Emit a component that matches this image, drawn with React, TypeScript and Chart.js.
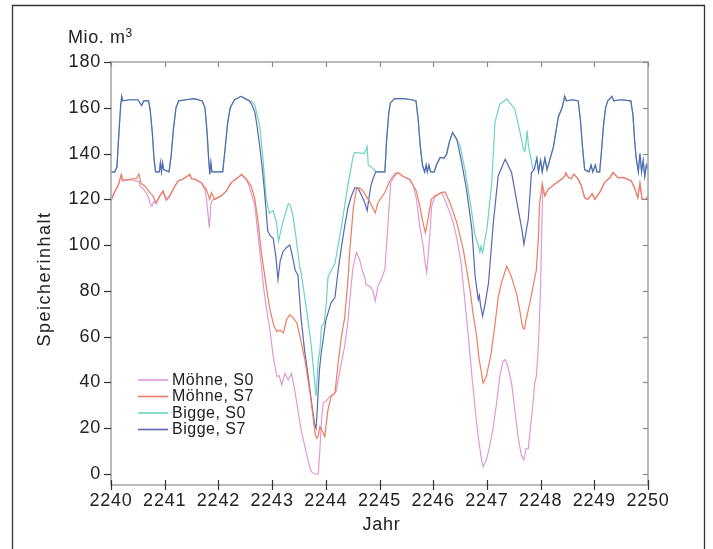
import React, { useEffect, useRef } from "react";
import { Chart, registerables } from "chart.js";

Chart.register(...registerables);

const FONT = '"Liberation Sans", Arial, Helvetica, sans-serif';

const xTicks = [2240, 2241, 2242, 2243, 2244, 2245, 2246, 2247, 2248, 2249, 2250];
const yTicks = [0, 20, 40, 60, 80, 100, 120, 140, 160, 180];
const seriesLabels = ["Möhne, S0", "Möhne, S7", "Bigge, S0", "Bigge, S7"];
const yUnit = "Mio. m";
const yUnitExp = "3";
const yTitle = "Speicherinhalt";
const xTitle = "Jahr";

// [Jahr, Speicherinhalt]
const mohneS0: [number, number][] = [
  [2240.00,119],[2240.05,122],[2240.10,125],[2240.15,127],[2240.19,130],[2240.22,128],[2240.30,128.5],[2240.40,128.5],
  [2240.47,128],[2240.52,128],[2240.55,125.5],[2240.62,124],[2240.69,121.5],[2240.73,118],[2240.76,117],[2240.80,119],
  [2240.84,118],[2240.91,121.5],[2240.97,123.5],[2241.00,121],[2241.03,119.5],[2241.09,121],[2241.19,125.8],[2241.25,128],
  [2241.35,129],[2241.47,130.5],[2241.50,129],[2241.56,128.8],[2241.68,127.3],[2241.75,124],[2241.78,120],[2241.83,107.6],
  [2241.86,118],[2241.90,120],[2241.93,120],[2242.05,121.5],[2242.15,123.7],[2242.24,127.3],[2242.36,129.5],[2242.43,130.5],
  [2242.52,128.8],[2242.57,126],[2242.62,122],[2242.68,117],[2242.74,104],[2242.80,91],[2242.85,80],[2242.91,70],
  [2242.96,63],[2243.02,51.4],[2243.09,42.6],[2243.13,43],[2243.18,39],[2243.24,44],[2243.30,41],[2243.36,44],
  [2243.42,36.8],[2243.48,28],[2243.54,19.3],[2243.64,9],[2243.70,3.2],[2243.73,1],[2243.80,0],[2243.86,0],
  [2243.89,10.5],[2243.92,23.6],[2243.95,31],[2244.01,32],[2244.07,33.9],[2244.13,34.6],[2244.19,36],[2244.23,41],
  [2244.29,48.5],[2244.35,55.7],[2244.41,66],[2244.47,82],[2244.51,90.8],[2244.57,96.7],[2244.63,93.7],[2244.69,88],
  [2244.72,86.4],[2244.75,82.8],[2244.82,82],[2244.88,80],[2244.92,75.5],[2244.97,82],[2245.03,85],[2245.10,89.4],
  [2245.16,110],[2245.21,127.4],[2245.28,130],[2245.34,131.7],[2245.44,130],[2245.56,128.8],[2245.63,126],[2245.69,120],
  [2245.75,108],[2245.81,100],[2245.85,92],[2245.88,88],[2245.94,105.4],[2245.97,117],[2246.03,121],[2246.15,123],
  [2246.19,121.4],[2246.31,114.2],[2246.37,110],[2246.44,103],[2246.52,92],[2246.58,78],[2246.655,60],[2246.71,45.5],
  [2246.77,31],[2246.83,17.8],[2246.90,6.1],[2246.93,3.2],[2246.99,6.1],[2247.05,12],[2247.11,19.3],[2247.18,31],
  [2247.24,42.6],[2247.30,49.2],[2247.34,50],[2247.39,47],[2247.46,39.7],[2247.52,28],[2247.58,16.3],[2247.64,8.3],
  [2247.69,6.1],[2247.73,11.2],[2247.77,11],[2247.80,17.8],[2247.86,31],[2247.89,39.7],[2247.92,42.6],[2247.95,52.9],
  [2247.97,62],[2248.00,82],[2248.02,105],[2248.04,124.4],[2248.08,121.5],[2248.14,124.4],[2248.26,126.6],[2248.39,128.8],
  [2248.45,130.2],[2248.47,131.5],[2248.52,129.5],[2248.57,129],[2248.62,131],[2248.70,128.8],[2248.76,125.8],[2248.82,120.7],
  [2248.88,120],[2248.96,122.5],[2249.01,120],[2249.10,123],[2249.19,127.3],[2249.29,129.5],[2249.35,131.7],[2249.44,129.5],
  [2249.55,129.5],[2249.69,128],[2249.75,125],[2249.81,120.7],[2249.85,127],[2249.89,120],[2249.96,120],[2250.00,121.5],
];

const mohneS7: [number, number][] = [
  [2240.00,120],[2240.06,123],[2240.13,125.8],[2240.19,131],[2240.22,128.5],[2240.30,128.5],[2240.40,129],[2240.47,129],
  [2240.52,131],[2240.56,127],[2240.64,125.5],[2240.72,123],[2240.78,121.5],[2240.84,118.5],[2240.91,121.5],[2240.97,123.7],
  [2241.03,120],[2241.09,121.5],[2241.19,125.8],[2241.25,128],[2241.35,129],[2241.47,131],[2241.50,129],[2241.56,128.8],
  [2241.68,127.3],[2241.775,124.4],[2241.84,120],[2241.87,123],[2241.93,120],[2242.05,121.5],[2242.15,123.7],[2242.24,127.3],
  [2242.365,129.5],[2242.43,131],[2242.52,128.8],[2242.61,125.8],[2242.68,120],[2242.74,109.8],[2242.80,96.7],[2242.86,87],
  [2242.90,80.6],[2242.96,71.8],[2243.03,65],[2243.09,62.3],[2243.15,62.8],[2243.21,61.6],[2243.27,67.5],[2243.33,69.6],
  [2243.40,68],[2243.46,66],[2243.52,60],[2243.61,50],[2243.71,35],[2243.77,23.6],[2243.80,17.8],[2243.83,15.6],
  [2243.855,16.3],[2243.89,20.7],[2243.93,19],[2243.98,16.3],[2244.04,28],[2244.10,33.9],[2244.17,35.3],[2244.23,48.5],
  [2244.29,60],[2244.35,68],[2244.41,84],[2244.445,97],[2244.51,115.6],[2244.57,124.4],[2244.63,125],[2244.69,123.7],
  [2244.79,120],[2244.84,118],[2244.92,114],[2244.97,118.5],[2245.10,123],[2245.19,128],[2245.28,131],[2245.34,131.7],
  [2245.44,130],[2245.56,128.8],[2245.685,123.7],[2245.75,117],[2245.81,109.8],[2245.855,105.4],[2245.90,111],[2245.965,120],
  [2246.03,121.5],[2246.15,123],[2246.22,123.2],[2246.31,118.6],[2246.44,109.8],[2246.56,98],[2246.685,80.6],[2246.74,70.4],
  [2246.81,60],[2246.85,51],[2246.93,39.7],[2246.99,42.6],[2247.08,52.9],[2247.145,64.5],[2247.21,77],[2247.27,83.5],
  [2247.37,90.8],[2247.455,86.4],[2247.49,83.5],[2247.55,79],[2247.61,71.8],[2247.65,66],[2247.67,63.8],[2247.70,63.3],
  [2247.73,67.5],[2247.80,74.8],[2247.86,82],[2247.92,89],[2247.96,104],[2247.98,118],[2248.01,123],[2248.03,127],
  [2248.08,121.5],[2248.14,124.4],[2248.26,126.6],[2248.39,128.8],[2248.45,130.2],[2248.47,131.5],[2248.52,129.5],[2248.57,129],
  [2248.62,131],[2248.70,128.8],[2248.76,125.8],[2248.82,120.7],[2248.88,120],[2248.96,122.5],[2249.01,120],[2249.10,123],
  [2249.19,127.3],[2249.29,129.5],[2249.35,131.7],[2249.44,129.5],[2249.55,129.5],[2249.69,128],[2249.75,125],[2249.81,120.7],
  [2249.85,127],[2249.89,120],[2249.96,120],[2250.00,121.5],
];

const biggeS0: [number, number][] = [
  [2240.00,132],[2240.07,132],[2240.11,134],[2240.15,150],[2240.18,161],[2240.20,165],[2240.22,163],[2240.35,163.5],
  [2240.50,163.5],[2240.57,161],[2240.61,163],[2240.70,163],[2240.73,159],[2240.77,149],[2240.80,138],[2240.83,132],
  [2240.90,132],[2240.92,136],[2240.94,132],[2240.96,136],[2240.98,133],[2241.08,132],[2241.12,139],[2241.16,150],
  [2241.21,160],[2241.26,163],[2241.40,163.5],[2241.55,164],[2241.70,163],[2241.75,160],[2241.79,149],[2241.82,137],
  [2241.84,131],[2241.86,136],[2241.88,132],[2242.08,132],[2242.12,141],[2242.17,153],[2242.22,160],[2242.30,163.5],
  [2242.42,165],[2242.50,164],[2242.58,163],[2242.63,162.5],[2242.68,161],[2242.77,152],[2242.83,137.5],[2242.89,120],
  [2242.95,114],[2243.02,115],[2243.08,110],[2243.12,101.7],[2243.20,110],[2243.30,118],[2243.34,117.5],[2243.39,112.7],
  [2243.45,102.5],[2243.51,91],[2243.54,88],[2243.64,72],[2243.73,56],[2243.79,41],[2243.82,34],[2243.86,50],
  [2243.89,54],[2243.92,64.5],[2243.97,66],[2244.01,75],[2244.04,86],[2244.10,89],[2244.17,92],[2244.29,108],
  [2244.41,126],[2244.51,139],[2244.54,140.5],[2244.72,140],[2244.77,143],[2244.79,135],[2244.90,133],[2244.93,132],
  [2245.10,132],[2245.13,145],[2245.17,157],[2245.20,162],[2245.28,164],[2245.45,164],[2245.60,163.5],[2245.68,163],
  [2245.72,155],[2245.76,143],[2245.80,135],[2245.84,132],[2245.87,135],[2245.89,132],[2245.92,135],[2245.95,132],
  [2246.02,132],[2246.06,135],[2246.13,138.3],[2246.20,138],[2246.25,139.7],[2246.30,145],[2246.36,149.2],[2246.50,143.4],
  [2246.59,133],[2246.69,118.6],[2246.78,104],[2246.84,100],[2246.87,97],[2246.89,99.5],[2246.92,96.7],[2247.00,107],
  [2247.09,127],[2247.15,153.6],[2247.24,161.6],[2247.37,163.8],[2247.52,159.4],[2247.62,149],[2247.68,142],[2247.71,141],
  [2247.75,150],[2247.77,144],[2247.80,140],[2247.86,133],[2247.88,133],[2247.93,138],[2247.96,132],[2248.00,137],
  [2248.03,132],[2248.08,138],[2248.12,133],[2248.24,143],[2248.33,156],[2248.40,160],[2248.45,165],[2248.48,163],
  [2248.60,163.5],[2248.70,163],[2248.74,155],[2248.78,143],[2248.82,133],[2248.90,132],[2248.94,135],[2248.97,132],
  [2249.02,135],[2249.05,132],[2249.10,132],[2249.13,140],[2249.17,152],[2249.21,160],[2249.25,163],[2249.33,165],
  [2249.36,163],[2249.50,163.5],[2249.68,163],[2249.72,157],[2249.75,146],[2249.78,138],[2249.82,132],[2249.85,140],
  [2249.88,132],[2249.91,137],[2249.94,130],[2249.97,135],[2250.00,133],
];

const biggeS7: [number, number][] = [
  [2240.00,132],[2240.07,132],[2240.11,134],[2240.15,150],[2240.18,161],[2240.20,165],[2240.22,163],[2240.35,163.5],
  [2240.50,163.5],[2240.57,161],[2240.61,163],[2240.70,163],[2240.73,159],[2240.77,149],[2240.80,138],[2240.83,132],
  [2240.90,132],[2240.92,136],[2240.94,132],[2240.96,136],[2240.98,133],[2241.08,132],[2241.12,139],[2241.16,150],
  [2241.21,160],[2241.26,163],[2241.40,163.5],[2241.55,164],[2241.70,163],[2241.75,160],[2241.79,149],[2241.82,137],
  [2241.84,131],[2241.86,136],[2241.88,132],[2242.08,132],[2242.12,141],[2242.17,153],[2242.22,160],[2242.30,163.5],
  [2242.42,165],[2242.50,164],[2242.58,163],[2242.63,161],[2242.68,158],[2242.72,152],[2242.77,143],[2242.82,133],
  [2242.86,123],[2242.92,106],[2242.97,104],[2243.02,103],[2243.07,95],[2243.11,85],[2243.15,93],[2243.20,97],
  [2243.27,99],[2243.33,100],[2243.38,95],[2243.43,89],[2243.48,87],[2243.54,68],[2243.60,55],[2243.67,43],
  [2243.73,32],[2243.79,22],[2243.82,20],[2243.85,32],[2243.88,45],[2243.91,52],[2244.00,67],[2244.10,75],
  [2244.17,77],[2244.23,89],[2244.29,99],[2244.35,108],[2244.41,116],[2244.47,121],[2244.54,125],[2244.60,125],
  [2244.66,122],[2244.72,119],[2244.77,115],[2244.80,120],[2244.84,126],[2244.88,129],[2244.93,132],[2245.10,132],
  [2245.13,145],[2245.17,157],[2245.20,162],[2245.28,164],[2245.45,164],[2245.60,163.5],[2245.68,163],[2245.72,155],
  [2245.76,143],[2245.80,135],[2245.84,132],[2245.87,135],[2245.89,132],[2245.92,135],[2245.95,132],[2246.02,132],
  [2246.06,135],[2246.13,138.3],[2246.20,138],[2246.25,139.7],[2246.30,145],[2246.36,149.2],[2246.44,146.3],[2246.53,136],
  [2246.62,124.4],[2246.72,107],[2246.78,86.4],[2246.84,76.2],[2246.86,78],[2246.88,74],[2246.92,68.9],[2246.97,74.8],
  [2247.03,83.5],[2247.12,109.8],[2247.21,130.2],[2247.34,137.5],[2247.46,131.7],[2247.56,118.6],[2247.65,107],[2247.69,100.3],
  [2247.77,111.3],[2247.83,131.7],[2247.88,133],[2247.93,138],[2247.96,132],[2248.00,137],[2248.03,132],[2248.08,138],
  [2248.12,133],[2248.24,143],[2248.33,156],[2248.40,160],[2248.45,165],[2248.48,163],[2248.60,163.5],[2248.70,163],
  [2248.74,155],[2248.78,143],[2248.82,133],[2248.90,132],[2248.94,135],[2248.97,132],[2249.02,135],[2249.05,132],
  [2249.10,132],[2249.13,140],[2249.17,152],[2249.21,160],[2249.25,163],[2249.33,165],[2249.36,163],[2249.50,163.5],
  [2249.68,163],[2249.72,157],[2249.75,146],[2249.78,138],[2249.82,132],[2249.85,140],[2249.88,132],[2249.91,137],
  [2249.94,130],[2249.97,135],[2250.00,133],
];

const seriesColors = ["#dc9bd6", "#ef7d5e", "#6ad5c1", "#5967b2"];
const seriesOrder = [2, 0, 3, 1];

export default function App() {
  const ref = useRef<HTMLCanvasElement | null>(null);

  useEffect(() => {
    const canvas = ref.current;
    if (!canvas) return;
    const series = [mohneS0, mohneS7, biggeS0, biggeS7];

    const decor = {
      id: "decor",
      beforeUpdate(chart: any) {
        chart.ctx.letterSpacing = "0.8px";
      },
      beforeDraw(chart: any) {
        chart.ctx.letterSpacing = "0.8px";
      },
      afterDraw(chart: any) {
        const ctx = chart.ctx as CanvasRenderingContext2D & { letterSpacing: string };
        const { left, right, top, bottom } = chart.chartArea;
        const xs = chart.scales.x;
        const ys = chart.scales.y;
        ctx.save();
        ctx.letterSpacing = "0px";

        // plot box
        ctx.strokeStyle = "#a9a9a9";
        ctx.lineWidth = 1.6;
        ctx.strokeRect(left, top, right - left, bottom - top);

        // tick marks
        ctx.lineWidth = 1.2;
        for (const v of xTicks) {
          const px = Math.round(xs.getPixelForValue(v)) + 0.5;
          ctx.strokeStyle = "#333";
          ctx.beginPath();
          ctx.moveTo(px, bottom - 5);
          ctx.lineTo(px, bottom + 5);
          ctx.stroke();
          ctx.strokeStyle = "#8a8a8a";
          ctx.beginPath();
          ctx.moveTo(px, top);
          ctx.lineTo(px, top + 5);
          ctx.stroke();
        }
        for (const v of yTicks) {
          const py = Math.round(ys.getPixelForValue(v)) + 0.5;
          ctx.strokeStyle = "#333";
          ctx.beginPath();
          ctx.moveTo(left - 7, py);
          ctx.lineTo(left, py);
          ctx.stroke();
          ctx.strokeStyle = "#8a8a8a";
          ctx.beginPath();
          ctx.moveTo(right - 5, py);
          ctx.lineTo(right, py);
          ctx.stroke();
        }

        // outer frame
        ctx.strokeStyle = "#333";
        ctx.lineWidth = 1.3;
        ctx.beginPath();
        ctx.moveTo(12.5, 560);
        ctx.lineTo(12.5, 5.5);
        ctx.lineTo(704.5, 5.5);
        ctx.lineTo(704.5, 560);
        ctx.stroke();

        // texts
        ctx.fillStyle = "#222";
        ctx.font = `18px ${FONT}`;
        ctx.letterSpacing = "0.6px";
        ctx.textAlign = "left";
        ctx.textBaseline = "alphabetic";
        ctx.fillText(yUnit, 68, 43);
        const w = ctx.measureText(yUnit).width;
        ctx.font = `12px ${FONT}`;
        ctx.letterSpacing = "0px";
        ctx.fillText(yUnitExp, 68 + w, 37);

        ctx.font = `18px ${FONT}`;
        ctx.textAlign = "center";
        ctx.letterSpacing = "0.8px";
        ctx.fillText(xTitle, (left + right) / 2 + 2, 530);

        ctx.save();
        ctx.translate(50, 279);
        ctx.rotate(-Math.PI / 2);
        ctx.letterSpacing = "1.5px";
        ctx.textAlign = "center";
        ctx.fillText(yTitle, 0, 0);
        ctx.restore();

        // legend
        const rows = [380, 396.5, 413, 429.5];
        ctx.font = `16px ${FONT}`;
        ctx.letterSpacing = "0.5px";
        ctx.textAlign = "left";
        ctx.textBaseline = "middle";
        seriesLabels.forEach((lab, i) => {
          ctx.strokeStyle = seriesColors[i];
          ctx.lineWidth = 1.6;
          ctx.beginPath();
          ctx.moveTo(138, rows[i]);
          ctx.lineTo(168, rows[i]);
          ctx.stroke();
          ctx.fillStyle = "#222";
          ctx.fillText(lab, 172, rows[i] + 0.5);
        });
        ctx.restore();
      },
    };

    const tickFont = { family: FONT, size: 18 };

    const chart = new Chart(canvas, {
      type: "line",
      data: {
        datasets: series.map((s, i) => ({
          label: seriesLabels[i],
          data: s.map(([x, y]) => ({ x, y })),
          borderColor: seriesColors[i],
          backgroundColor: seriesColors[i],
          borderWidth: 1.2,
          pointRadius: 0,
          fill: false,
          tension: 0,
          order: seriesOrder[i],
        })),
      },
      options: {
        responsive: false,
        animation: false,
        devicePixelRatio: 1,
        layout: { padding: { left: 0, top: 62, right: 65, bottom: 0 } },
        plugins: {
          legend: { display: false },
          tooltip: { enabled: false },
          title: { display: false },
        },
        scales: {
          x: {
            type: "linear",
            min: 2240,
            max: 2250,
            afterBuildTicks: (s: any) => {
              s.ticks = xTicks.map((v) => ({ value: v }));
            },
            afterFit: (s: any) => {
              s.height = 64;
            },
            grid: { display: false, drawTicks: false },
            border: { display: false },
            ticks: {
              font: tickFont,
              color: "#222",
              padding: 5,
              maxRotation: 0,
              minRotation: 0,
              autoSkip: false,
              callback: (v: any) => String(v),
            },
          },
          y: {
            type: "linear",
            min: -4.8,
            max: 180,
            afterBuildTicks: (s: any) => {
              s.ticks = yTicks.map((v) => ({ value: v }));
            },
            afterFit: (s: any) => {
              s.width = 111;
            },
            grid: { display: false, drawTicks: false },
            border: { display: false },
            ticks: {
              font: tickFont,
              color: "#222",
              padding: 10,
              autoSkip: false,
              callback: (v: any) => String(v),
            },
          },
        },
      } as any,
      plugins: [decor],
    });

    return () => chart.destroy();
  }, []);

  return (
    <div style={{ position: "absolute", left: 0, top: 0, width: 713, height: 549, background: "#fff" }}>
      <canvas ref={ref} width={713} height={549} style={{ display: "block" }} />
    </div>
  );
}
